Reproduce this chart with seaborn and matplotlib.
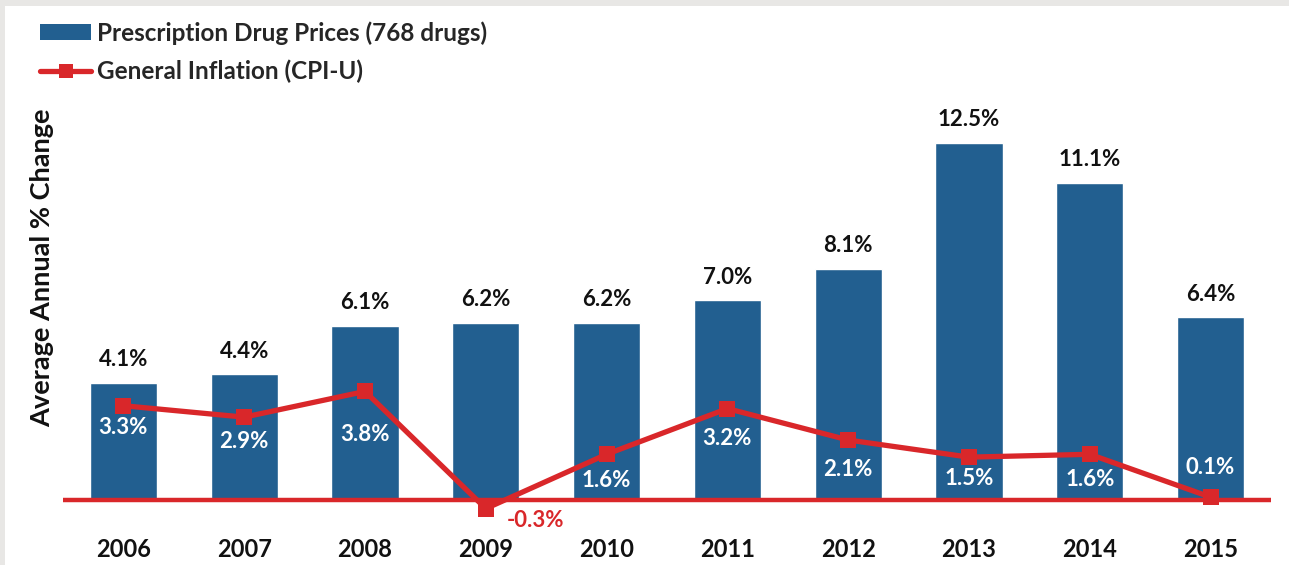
import numpy as np
import pandas as pd
import seaborn as sns
import matplotlib
matplotlib.use("Agg")
import matplotlib.pyplot as plt
from matplotlib.patches import Patch, Rectangle
from matplotlib.lines import Line2D

years = ["2006", "2007", "2008", "2009", "2010", "2011", "2012", "2013", "2014", "2015"]
drug_prices = [4.1, 4.4, 6.1, 6.2, 6.2, 7.0, 8.1, 12.5, 11.1, 6.4]
cpi_u = [3.3, 2.9, 3.8, -0.3, 1.6, 3.2, 2.1, 1.5, 1.6, 0.1]
series_names = ["Prescription Drug Prices (768 drugs)", "General Inflation (CPI-U)"]
y_label = "Average Annual % Change"

# label offsets (pixels) for CPI labels relative to markers
cpi_label_dx = [0, 0, 0, 50, 0, 0, 0, 0, 0, 0]
cpi_label_dy = [-22, -24, -43, -12, -26, -30, -30, -21, -25, 30]

BLUE = "#225f90"
RED = "#d9272a"
GREY = "#e8e7e5"

sns.set_theme(style="white")
plt.rcParams["font.family"] = ["Lato", "DejaVu Sans"]

W, H = 1289, 565
fig = plt.figure(figsize=(W / 100, H / 100), dpi=100, facecolor=GREY)
fig.patches.append(Rectangle((5 / W, 0), 1 - 5 / W, 1 - 6 / H, transform=fig.transFigure,
                             facecolor="white", edgecolor="none", zorder=-10))

ax = fig.add_axes([63 / W, 45 / H, 1208 / W, 420 / H])
ax.set_facecolor("none")

df = pd.DataFrame({"year": years, "drug": drug_prices, "cpi": cpi_u})
sns.barplot(data=df, x="year", y="drug", color=BLUE, saturation=1, width=0.555, ax=ax, zorder=2)
ax.axhline(0, color=RED, lw=3.2, zorder=3)
sns.lineplot(x=np.arange(len(years)), y=cpi_u, color=RED, lw=3.8, marker="s", markersize=12,
             markeredgewidth=0, ax=ax, zorder=4)

ax.set_xlim(-0.5, 9.5)
ax.set_ylim(-0.7, 14.0)
for s in ax.spines.values():
    s.set_visible(False)
ax.set_yticks([])
ax.set_xlabel("")
ax.set_ylabel("")
ax.tick_params(axis="x", length=0, pad=13)
for lbl in ax.get_xticklabels():
    lbl.set_fontsize(17)
    lbl.set_fontweight("bold")
    lbl.set_color("#111111")

for i, v in enumerate(drug_prices):
    ax.annotate(f"{v:.1f}%", (i, v), xytext=(0, 9), textcoords="offset points",
                ha="center", va="bottom", fontsize=16, fontweight="bold", color="#111111")

for i, v in enumerate(cpi_u):
    col = RED if v < 0 else "white"
    ax.annotate(f"{v:.1f}%", (i, v), xytext=(cpi_label_dx[i] * 0.72, cpi_label_dy[i] * 0.72),
                textcoords="offset points", ha="center", va="center", fontsize=16,
                fontweight="bold", color=col, zorder=5)

fig.text(42 / W, 1 - 268 / H, y_label, rotation=90, ha="center", va="center",
         fontsize=19.5, fontweight="bold", color="#111111")

handles = [Patch(facecolor=BLUE, edgecolor="none"),
           Line2D([0], [0], color=RED, lw=3.8, marker="s", markersize=10, markeredgewidth=0)]
fig.legend(handles, series_names, loc="upper left", bbox_to_anchor=(40 / W, 1 - 21 / H),
           frameon=False, handlelength=2.1, handleheight=0.6, handletextpad=0.25,
           labelspacing=0.6, borderaxespad=0, borderpad=0,
           prop={"weight": "bold", "size": 17.5})

fig.savefig("out.png", dpi=100, facecolor=GREY)
